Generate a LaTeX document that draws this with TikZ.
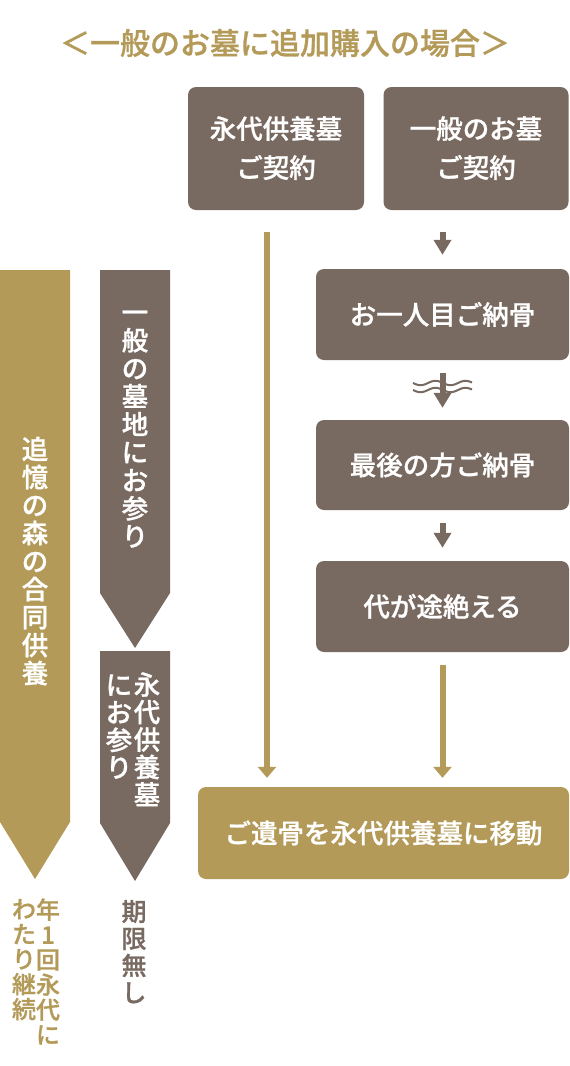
\documentclass[tikz,border=0pt]{standalone}
\usepackage{fontspec}
\newfontfamily\jp{Noto Sans CJK JP}[BoldFont={* Medium}, BoldFeatures={FakeBold=0.9}]
\usetikzlibrary{arrows.meta}
\definecolor{brn}{HTML}{796A61}
\definecolor{gld}{HTML}{B39A58}
\newcommand\vstr{\rule[-0.12em]{0pt}{1em}}
\tikzset{
  box/.style={fill=brn, rounded corners=8pt, text=white, align=center, inner sep=0pt,
    font=\jp\bfseries\fontsize{26.5}{39}\selectfont,
    execute at begin node=\vstr, execute at end node=\vstr},
  goldbox/.style={box, fill=gld},
  brar/.style={draw=brn, line width=6pt, -{Triangle[width=17pt,length=15pt]}},
  gdar/.style={draw=gld, line width=6pt, -{Triangle[width=18pt,length=11pt]}},
  vt/.style={text=white, align=center, inner sep=0pt,
    font=\jp\bfseries\fontsize{26.5}{28}\selectfont,
    execute at begin node=\vstr, execute at end node=\vstr},
  wave/.style={draw=brn, line width=2pt},
}
\begin{document}
\begin{tikzpicture}[x=1pt,y=-1pt]
\useasboundingbox (0,0) rectangle (570,1066);
% title
\node[text=gld, font=\jp\bfseries\fontsize{30}{30}\selectfont] (title) at (285,43) {＜一般のお墓に追加購入の場合＞};
% boxes
\node[box, minimum width=176pt, minimum height=123pt] (A) at (276,148.5) {永代供養墓\\ご契約};
\node[box, minimum width=185pt, minimum height=123pt] (B) at (476,148.5) {一般のお墓\\ご契約};
\node[box, minimum width=253pt, minimum height=91pt] (s1) at (442.5,314.5) {お一人目ご納骨};
\node[box, minimum width=253pt, minimum height=90pt] (s2) at (442.5,465) {最後の方ご納骨};
\node[box, minimum width=253pt, minimum height=91pt] (s3) at (442.5,606.5) {代が途絶える};
\node[goldbox, minimum width=371pt, minimum height=92pt] (G) at (383.5,833) {ご遺骨を永代供養墓に移動};
% connectors
\coordinate (gx) at (267,0);
\draw[gdar, shorten <=22pt, shorten >=9pt] (A.south -| gx) -- (G.north -| gx);
\draw[brar, shorten <=22pt, shorten >=14pt] (B.south -| s1.north) -- (s1.north);
\draw[brar, shorten <=13pt, shorten >=12pt] (s1) -- (s2);
\draw[wave] plot[domain=413:472, samples=60] (\x, {383 + 2.2*sin((\x-413)*12)});
\draw[wave] plot[domain=413:472, samples=60] (\x, {390 + 2.2*sin((\x-413)*12)});
\draw[brar, shorten <=13pt, shorten >=13pt] (s2) -- (s3);
\draw[gdar, shorten <=13pt, shorten >=9pt] (s3) -- (s3 |- G.north);
% banners
\fill[gld] (0,270) -- (70,270) -- (70,822) -- (35,879) -- (0,822) -- cycle;
\fill[brn] (100,270) -- (170,270) -- (170,593) -- (135,648) -- (100,593) -- cycle;
\fill[brn] (100,651) -- (170,651) -- (170,823) -- (135,881) -- (100,823) -- cycle;
\node[vt] (t1) at (35,561.5) {追\\憶\\の\\森\\の\\合\\同\\供\\養};
\node[vt] (t2) at (135,430) {一\\般\\の\\墓\\地\\に\\お\\参\\り};
\node[vt, font=\jp\bfseries\fontsize{26.5}{27.5}\selectfont] (t3) at (147,740) {永\\代\\供\\養\\墓};
\node[vt, font=\jp\bfseries\fontsize{26.5}{27.5}\selectfont] (t4) at (119,727.5) {に\\お\\参\\り};
% bottom notes
\node[vt, text=gld, font=\jp\bfseries\fontsize{24}{25}\selectfont] (n1) at (48,972.5) {年\\1\\回\\永\\代\\に};
\node[vt, text=gld, font=\jp\bfseries\fontsize{24}{25}\selectfont] (n2) at (24,960) {わ\\た\\り\\継\\続};
\node[vt, text=brn, font=\jp\bfseries\fontsize{25}{27}\selectfont] (n3) at (134,952.5) {期\\限\\無\\し};
\end{tikzpicture}
\end{document}
